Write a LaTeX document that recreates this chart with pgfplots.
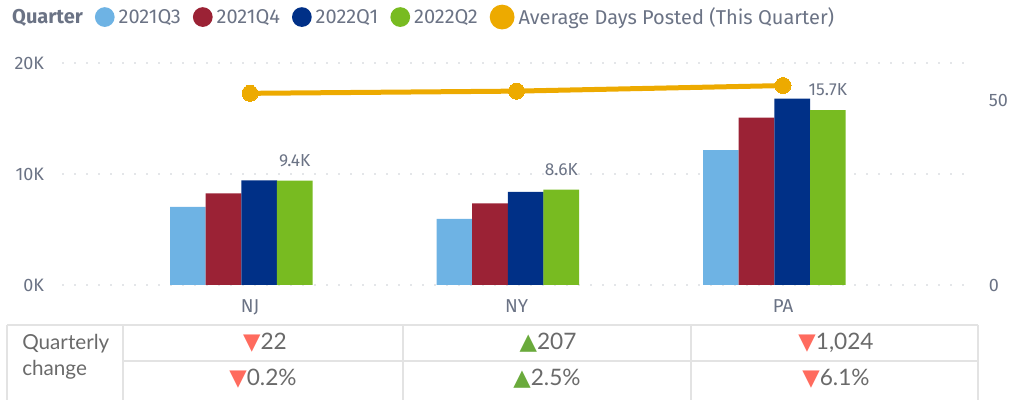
\documentclass[border=0pt]{standalone}
\usepackage{pgfplots}
\pgfplotsset{compat=1.18}
\usepackage{fontspec}
\setmainfont{Fira Sans}
\newfontfamily\tablefont{Lato}
\newfontfamily\symfont{DejaVu Sans}
\definecolor{cQthree}{HTML}{6EB3E4}
\definecolor{cQfour}{HTML}{9B2235}
\definecolor{cQone}{HTML}{003087}
\definecolor{cQtwo}{HTML}{78BB21}
\definecolor{cLine}{HTML}{EDAA00}
\definecolor{txt}{HTML}{6B7385}
\definecolor{tabtxt}{HTML}{6A6A6A}
\definecolor{tabline}{HTML}{E3E3E3}
\definecolor{dn}{HTML}{FF6B5E}
\definecolor{up}{HTML}{6AAA3C}
\definecolor{gridc}{HTML}{C8CCD2}
\begin{document}
\begin{tikzpicture}
\useasboundingbox (0,0) rectangle (758.25pt,300pt);
\pgfplotsset{
  common/.style={
    at={(47.25pt,86.25pt)}, anchor=south west,
    scale only axis, width=678.75pt, height=166.5pt,
    xmin=-0.7017, xmax=2.694,
    axis line style={draw=none}, major tick length=0pt,
    tick style={draw=none},
  }
}
\begin{axis}[common,
  ymin=0, ymax=20000, scaled y ticks=false,
  ytick={0,10000,20000}, yticklabels={0K,10K,20K},
  yticklabel style={font=\fontsize{13.5}{16}\selectfont, color=txt, anchor=east, inner sep=0pt, xshift=-14pt},
  xtick={0,1,2}, xticklabels={NJ,NY,PA},
  xticklabel style={font=\fontsize{14}{17}\selectfont, color=txt, anchor=north, inner sep=0pt, yshift=-11pt},
  ymajorgrids, grid style={dash pattern=on 0pt off 9pt, line cap=round, line width=1.2pt, color=gridc},
]
\addplot[ybar, bar width=26.75pt, bar shift=-46.6pt, fill=cQthree, draw=none] coordinates {(0,7030) (1,5950) (2,12160)};
\addplot[ybar, bar width=26.75pt, bar shift=-19.9pt, fill=cQfour, draw=none] coordinates {(0,8250) (1,7360) (2,15070)};
\addplot[ybar, bar width=26.75pt, bar shift=6.9pt, fill=cQone, draw=none] coordinates {(0,9422) (1,8393) (2,16787)};
\addplot[ybar, bar width=26.75pt, bar shift=33.6pt, fill=cQtwo, draw=none,
  point meta=explicit symbolic, nodes near coords,
  every node near coord/.append style={font=\fontsize{13}{16}\selectfont, color=txt, anchor=south, inner sep=0pt, yshift=10.5pt, xshift=33.6pt}]
  coordinates {(0,9400) [9.4K] (1,8600) [8.6K] (2,15763) [15.7K]};
\end{axis}
\begin{axis}[common,
  ymin=0, ymax=60, xtick=\empty,
  ytick={0,50}, yticklabels={0,50}, yticklabel pos=right,
  yticklabel style={font=\fontsize{13.5}{16}\selectfont, color=txt, anchor=west, inner sep=0pt, xshift=15.5pt},
  legend style={at={(-0.0608,1.207)}, anchor=west, draw=none, fill=none, inner sep=0pt,
    legend columns=-1, font=\fontsize{15}{18}\selectfont, text=txt,
    nodes={inner sep=0pt},
    /tikz/every odd column/.style={column sep=3pt},
    /tikz/every even column/.style={column sep=9pt}},
  legend image code/.code={\fill[#1] (7.5pt,0pt) circle (7.4pt);},
]
\addlegendimage{empty legend}
\addlegendentry{\textbf{Quarter}}
\addlegendimage{fill=cQthree, draw=none}
\addlegendentry{2021Q3}
\addlegendimage{fill=cQfour, draw=none}
\addlegendentry{2021Q4}
\addlegendimage{fill=cQone, draw=none}
\addlegendentry{2022Q1}
\addlegendimage{fill=cQtwo, draw=none}
\addlegendentry{2022Q2}
\addplot[color=cLine, line width=3.75pt, mark=*, mark size=6pt, mark options={fill=cLine, draw=none, line width=0pt}] coordinates {(0,51.8) (1,52.4) (2,53.9)};
\addlegendentry{Average Days Posted (This Quarter)}
\end{axis}
\begin{scope}[x=0.75pt, y=-0.75pt, yshift=300pt]
  \draw[tabline, line width=1.1pt] (7,325) -- (978,325);
  \draw[tabline, line width=1.1pt] (123,361) -- (978,361);
  \foreach \xx in {7,123,403,691,978} {\draw[tabline, line width=1.1pt] (\xx,325) -- (\xx,402);}
  \tablefont\fontsize{15.5}{18}\selectfont
  \node[anchor=base west, inner sep=0pt, text=tabtxt] at (22,350) {Quarterly};
  \node[anchor=base west, inner sep=0pt, text=tabtxt] at (22,376) {change};
  \fontsize{17}{20}\selectfont
  \node[anchor=base, inner sep=0pt, text=tabtxt] at (265,350) {{\symfont\fontsize{17}{20}\selectfont\color{dn}▼}22};
  \node[anchor=base, inner sep=0pt, text=tabtxt] at (548,350) {{\symfont\fontsize{17}{20}\selectfont\color{up}▲}207};
  \node[anchor=base, inner sep=0pt, text=tabtxt] at (836,350) {{\symfont\fontsize{17}{20}\selectfont\color{dn}▼}1,024};
  \node[anchor=base, inner sep=0pt, text=tabtxt] at (263,386) {{\symfont\fontsize{17}{20}\selectfont\color{dn}▼}0.2\%};
  \node[anchor=base, inner sep=0pt, text=tabtxt] at (547,386) {{\symfont\fontsize{17}{20}\selectfont\color{up}▲}2.5\%};
  \node[anchor=base, inner sep=0pt, text=tabtxt] at (836,386) {{\symfont\fontsize{17}{20}\selectfont\color{dn}▼}6.1\%};
\end{scope}
\end{tikzpicture}
\end{document}
